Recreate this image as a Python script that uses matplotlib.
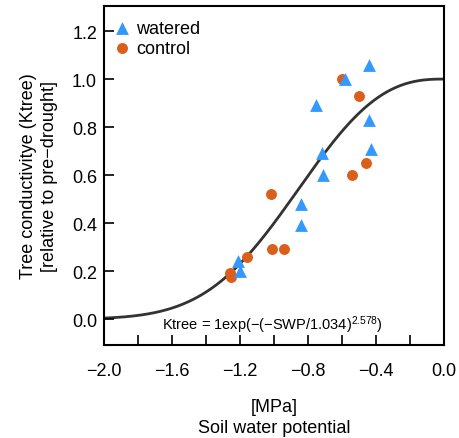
import numpy as np
import matplotlib.pyplot as plt

plt.rcParams['font.family'] = ['Liberation Sans', 'DejaVu Sans']
plt.rcParams['mathtext.default'] = 'regular'

# watered trees
watered_swp = [-0.44, -0.58, -0.75, -0.44, -0.72, -0.43, -0.71, -0.84, -0.84, -1.21, -1.20]
watered_k = [1.06, 1.00, 0.89, 0.83, 0.69, 0.71, 0.60, 0.48, 0.39, 0.24, 0.20]

# control trees
control_swp = [-0.60, -0.50, -0.46, -0.54, -1.02, -1.01, -0.94, -1.16, -1.26, -1.25]
control_k = [1.00, 0.93, 0.65, 0.60, 0.52, 0.29, 0.29, 0.26, 0.19, 0.175]

# fitted curve params
a = 1.0
b = 1.034
c = 2.578

fig = plt.figure(figsize=(4.59, 4.39), dpi=100)
ax = fig.add_axes([0.2266, 0.2118, 0.7404, 0.772])

swp = np.linspace(-2.0, 0.0, 300)
ax.plot(swp, a * np.exp(-(-swp / b) ** c), color="#333333", linewidth=2.0, zorder=1)

ax.scatter(watered_swp, watered_k, marker="^", s=85, color="#3399ff", label="watered", zorder=3, linewidths=0)
ax.scatter(control_swp, control_k, marker="o", s=62, color="#d95f1a", label="control", zorder=2, linewidths=0)

ax.text(-1.01, -0.02, r"Ktree = 1exp$(-(-$SWP$/$1.034$)^{2.578})$",
        ha="center", va="center", fontsize=10.5)

ax.set_xlim(-2.0, 0.0)
ax.set_ylim(-0.108, 1.304)
ax.set_xticks(np.arange(-2.0, 0.01, 0.2))
ax.set_xticklabels(["\u22122.0", "", "\u22121.6", "", "\u22121.2", "", "\u22120.8", "", "\u22120.4", "", "0.0"])
ax.set_yticks(np.arange(0.0, 1.21, 0.2))
ax.set_yticklabels(["0.0", "0.2", "0.4", "0.6", "0.8", "1.0", "1.2"])
ax.tick_params(direction="in", length=7, width=1.2, labelsize=13)
ax.tick_params(axis="x", pad=12)
ax.tick_params(axis="y", pad=5)

for s in ax.spines.values():
    s.set_linewidth(1.5)

ax.set_xlabel("[MPa]\nSoil water potential", fontsize=13, labelpad=14, linespacing=1.3)
ax.set_ylabel("Tree conductivitye (Ktree)\n[relative to pre\u2212drought]", fontsize=13, labelpad=10, linespacing=1.3)

ax.legend(loc="upper left", frameon=False, fontsize=13, handletextpad=0.3,
          borderaxespad=0.1, labelspacing=0.15, handlelength=1.0, bbox_to_anchor=(0.0, 0.985))

plt.savefig("out.png", dpi=100)
